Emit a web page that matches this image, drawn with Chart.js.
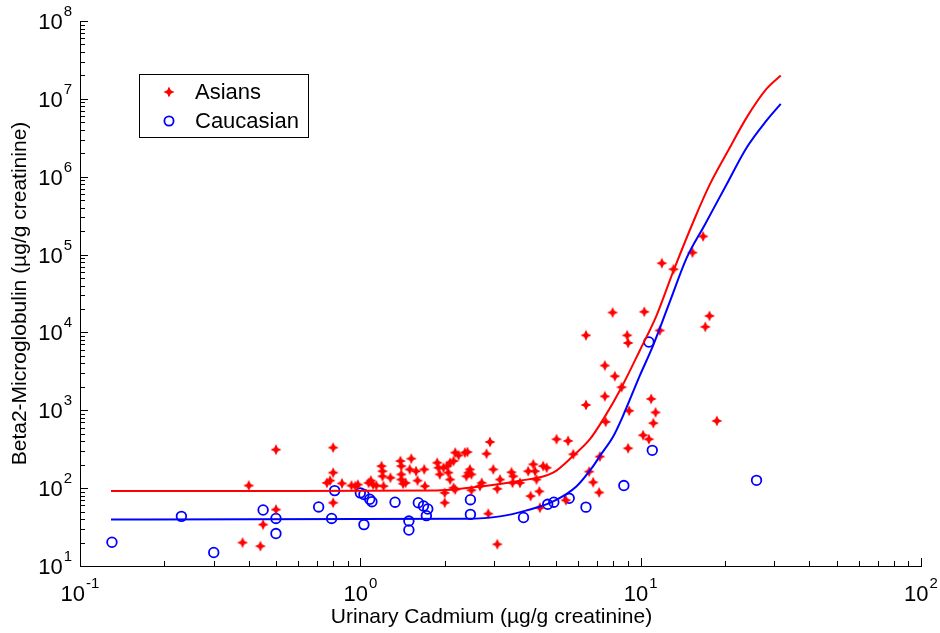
<!DOCTYPE html>
<html>
<head>
<meta charset="utf-8">
<title>Beta2-Microglobulin vs Urinary Cadmium</title>
<script src="https://cdn.jsdelivr.net/npm/chart.js@4.4.1/dist/chart.umd.min.js"></script>
<style>
  html, body { margin: 0; padding: 0; background: #fff; }
  #wrap { width: 940px; height: 633px; }
</style>
</head>
<body>
<div id="wrap"><canvas id="cdChart" width="940" height="633"></canvas></div>
<script>
// Scatter data (urinary Cd in ug/g creatinine, B2M in ug/g creatinine)
const asianCd = [0.40, 0.50, 0.50, 0.45, 0.38, 0.44, 0.80, 0.80, 0.80, 0.76,
  0.78, 0.86, 0.93, 0.96, 0.98, 1.07, 1.09, 1.11, 1.14, 1.21,
  1.19, 1.20, 1.20, 1.28, 1.39, 1.40, 1.40, 1.40, 1.42, 1.45,
  1.52, 1.50, 1.58, 1.60, 1.69, 1.70, 1.88, 1.90, 1.92, 2.00,
  2.00, 2.04, 2.06, 2.90, 2.82, 2.18, 2.24, 2.36, 2.41, 2.15,
  2.09, 1.98, 2.46, 2.43, 2.49, 2.39, 2.09, 2.15, 2.18, 2.49,
  2.71, 2.67, 2.98, 3.15, 3.08, 3.46, 3.51, 3.49, 3.71, 3.97,
  4.14, 4.20, 4.25, 4.49, 4.62, 5.01, 4.05, 4.35, 4.37, 2.86,
  3.08, 5.51, 5.75, 7.5, 7.15, 6.55, 6.77, 7.11, 5.41, 9.02,
  10.2, 10.7, 11.1, 7.94, 10.3, 6.38, 8.95, 9.02, 11.7, 7.45,
  8.09, 8.55, 7.45, 6.38, 10.9, 11.3, 9.10, 16.7, 15.3, 11.9,
  13.1, 17.6, 17.0, 18.7];
const asianB2m = [108, 312, 53, 34, 20, 18, 332, 158, 65, 117,
  125, 115, 108, 106, 111, 117, 125, 111, 108, 106,
  192, 165, 142, 136, 223, 192, 150, 129, 114, 117,
  239, 174, 165, 125, 174, 106, 212, 183, 150, 87,
  65, 192, 158, 392, 277, 286, 264, 286, 291, 223,
  212, 183, 174, 158, 150, 142, 129, 101, 96, 94,
  117, 106, 174, 129, 98, 160, 142, 117, 117, 165,
  202, 165, 129, 192, 183, 425, 79, 91, 56, 47,
  19, 404, 272, 710, 254, 163, 119, 88, 70, 325,
  478, 425, 684, 18000, 18400, 9180, 9180, 7320, 10600, 3760,
  2740, 1980, 1510, 1170, 1400, 940, 986, 171000, 106000, 77400,
  64800, 16300, 11800, 731];

const caucCd = [0.13, 0.23, 0.30, 0.45, 0.50, 0.50, 0.71, 0.79, 0.81, 1.00,
  1.03, 1.08, 1.10, 1.03, 1.33, 1.49, 1.49, 1.61, 1.68, 1.74,
  1.72, 2.47, 2.47, 3.82, 4.66, 4.90, 5.56, 6.38, 8.71, 11.0,
  10.7, 25.9];
const caucB2m = [20.2, 43.4, 14.9, 52.4, 40.8, 26.1, 57.3, 40.8, 93, 87,
  83, 72, 67, 34, 66, 37.8, 29, 65, 59, 54,
  44.3, 71, 46, 42, 62, 66, 74, 57, 108, 306,
  7540, 126];

// fitted curves
const asianFitCd = [0.129, 0.609, 1.815, 2.737, 3.62, 4.87, 5.73, 6.59, 7.36, 8.55,
  9.93, 11.4, 13.06, 15.61, 17.65, 20.5, 23.9, 28.1, 31.6];
const asianFitB2m = [92, 92, 93, 106, 123, 158, 258, 425, 770, 1980,
  5870, 16600, 60500, 295000, 796000, 2150000, 5780000, 13400000, 20000000];
const caucFitCd = [0.129, 2.39, 3.15, 3.92, 4.875, 5.91, 6.77, 7.15, 7.99, 8.55,
  9.93, 11.08, 12.71, 14.58, 16.94, 20.25, 23.9, 28.1, 31.6];
const caucFitB2m = [39.6, 40.5, 43.4, 51.8, 67.7, 106, 192, 258, 464, 770,
  2790, 6810, 24800, 89800, 242000, 796000, 2370000, 5240000, 8600000];

// axis decades (tick labels are 10^e)
const xDecades = [-1, 0, 1, 2];
const yDecades = [1, 2, 3, 4, 5, 6, 7, 8];

const xTitle = 'Urinary Cadmium (\u00b5g/g creatinine)';
const yTitle = 'Beta2-Microglobulin (\u00b5g/g creatinine)';

const FONT = '"Liberation Sans", Arial, Helvetica, sans-serif';
const RED = '#ff0000';
const BLUE = '#0000ff';

// little 4-point star like the matlab marker
function makeStar(color) {
  const c = document.createElement('canvas');
  c.width = 12;
  c.height = 12;
  const g = c.getContext('2d');
  g.fillStyle = color;
  g.beginPath();
  for (let i = 0; i < 8; i++) {
    const a = i * Math.PI / 4 - Math.PI / 2;
    const r = i % 2 === 0 ? 5.5 : 2.5;
    g.lineTo(6 + r * Math.cos(a), 6 + r * Math.sin(a));
  }
  g.closePath();
  g.fill();
  return c;
}
const starMark = makeStar(RED);

function toPoints(xs, ys) {
  return xs.map((v, i) => ({ x: v, y: ys[i] }));
}

// draws "10" with a raised exponent; anchor is 'center' (x axis) or 'right' (y axis)
function drawPow(ctx, exp, px, baseline, anchor) {
  ctx.font = '22px ' + FONT;
  const w10 = ctx.measureText('10').width;
  ctx.font = '15px ' + FONT;
  const wExp = ctx.measureText(exp).width;
  const total = w10 + wExp + 1;
  const start = anchor === 'center' ? px - total / 2 : px - total;
  ctx.textAlign = 'left';
  ctx.textBaseline = 'alphabetic';
  ctx.font = '22px ' + FONT;
  ctx.fillText('10', start, baseline);
  ctx.font = '15px ' + FONT;
  ctx.fillText(exp, start + w10 + 1, baseline - 13);
}

const matlabAxes = {
  id: 'matlabAxes',
  afterDraw(chart) {
    const { ctx, chartArea: a } = chart;
    const x = chart.scales.x;
    const y = chart.scales.y;
    ctx.save();
    ctx.strokeStyle = '#000';
    ctx.fillStyle = '#000';
    ctx.lineWidth = 1;

    // inward ticks, majors longer
    xDecades.forEach((e, i) => {
      for (let k = 1; k <= 9; k++) {
        if (i === xDecades.length - 1 && k > 1) break;
        const px = Math.round(x.getPixelForValue(k * Math.pow(10, e))) + 0.5;
        const len = k === 1 ? 8 : 5;
        ctx.beginPath();
        ctx.moveTo(px, a.bottom);
        ctx.lineTo(px, a.bottom - len);
        ctx.stroke();
      }
    });
    yDecades.forEach((e, i) => {
      for (let k = 1; k <= 9; k++) {
        if (i === yDecades.length - 1 && k > 1) break;
        const py = Math.round(y.getPixelForValue(k * Math.pow(10, e))) + 0.5;
        const len = k === 1 ? 8 : 5;
        ctx.beginPath();
        ctx.moveTo(a.left, py);
        ctx.lineTo(a.left + len, py);
        ctx.stroke();
      }
    });

    // tick labels
    xDecades.forEach(e => {
      drawPow(ctx, String(e), x.getPixelForValue(Math.pow(10, e)), a.bottom + 35, 'center');
    });
    yDecades.forEach(e => {
      drawPow(ctx, String(e), a.left - 8, y.getPixelForValue(Math.pow(10, e)) + 8, 'right');
    });

    // axis titles
    ctx.font = '21px ' + FONT;
    ctx.textAlign = 'center';
    ctx.textBaseline = 'middle';
    ctx.fillText(xTitle, (a.left + a.right) / 2 - 9, 617);
    ctx.save();
    ctx.translate(20, (a.top + a.bottom) / 2);
    ctx.rotate(-Math.PI / 2);
    ctx.fillText(yTitle, 0, 0);
    ctx.restore();

    // legend box
    ctx.fillStyle = '#fff';
    ctx.fillRect(139.5, 74.5, 169, 63);
    ctx.strokeRect(139.5, 74.5, 169, 63);
    ctx.drawImage(starMark, 169 - 6, 92 - 6);
    ctx.strokeStyle = BLUE;
    ctx.lineWidth = 1.8;
    ctx.beginPath();
    ctx.arc(169, 121, 4.6, 0, Math.PI * 2);
    ctx.stroke();
    ctx.fillStyle = '#000';
    ctx.textAlign = 'left';
    ctx.font = '22px ' + FONT;
    ctx.fillText(chart.data.datasets[0].label, 195, 93);
    ctx.fillText(chart.data.datasets[1].label, 195, 122);
    ctx.restore();
  }
};

const ctx = document.getElementById('cdChart').getContext('2d');
const cdChart = new Chart(ctx, {
  type: 'scatter',
  data: {
    datasets: [
      {
        label: 'Asians',
        data: toPoints(asianCd, asianB2m),
        pointStyle: starMark,
        pointRadius: 4,
        order: 2
      },
      {
        label: 'Caucasian',
        data: toPoints(caucCd, caucB2m),
        pointStyle: 'circle',
        pointRadius: 4.8,
        borderColor: BLUE,
        backgroundColor: 'rgba(0,0,0,0)',
        borderWidth: 1.8,
        order: 2
      },
      {
        label: 'Asian fit',
        data: toPoints(asianFitCd, asianFitB2m),
        showLine: true,
        borderColor: RED,
        borderWidth: 2,
        pointRadius: 0,
        cubicInterpolationMode: 'monotone',
        order: 1
      },
      {
        label: 'Caucasian fit',
        data: toPoints(caucFitCd, caucFitB2m),
        showLine: true,
        borderColor: BLUE,
        borderWidth: 2,
        pointRadius: 0,
        cubicInterpolationMode: 'monotone',
        order: 1
      }
    ]
  },
  options: {
    responsive: false,
    animation: false,
    layout: { padding: { left: 80, top: 21, right: 19, bottom: 67 } },
    plugins: {
      legend: { display: false },
      tooltip: { enabled: false }
    },
    scales: {
      x: {
        type: 'logarithmic',
        min: 0.1,
        max: 100,
        grid: { display: false, drawTicks: false },
        border: { display: true, color: '#000', width: 1 },
        ticks: { display: false }
      },
      y: {
        type: 'logarithmic',
        min: 10,
        max: 1e8,
        grid: { display: false, drawTicks: false },
        border: { display: true, color: '#000', width: 1 },
        ticks: { display: false }
      }
    }
  },
  plugins: [matlabAxes]
});
</script>
</body>
</html>
